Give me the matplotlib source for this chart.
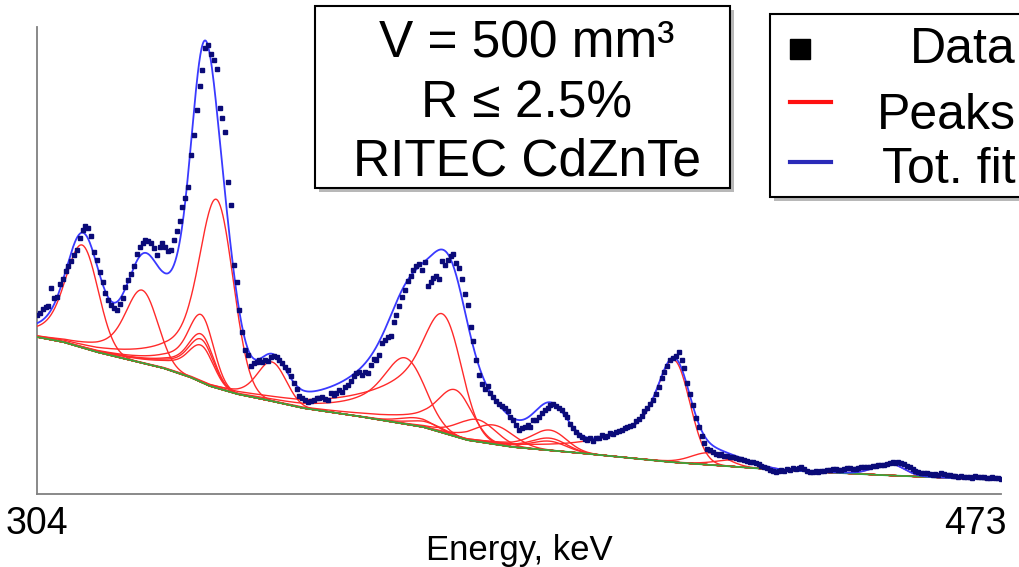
import numpy as np
import matplotlib
matplotlib.use("Agg")
import matplotlib.pyplot as plt
from matplotlib.patches import Rectangle
from matplotlib.lines import Line2D
import matplotlib.transforms as mtransforms
from math import erfc

# measured spectrum, 0.5 keV channels starting at 304 keV
e_start = 304.0
e_step = 0.5
counts = [
    179, 181, 185, 187, 188, 206, 196, 197, 210, 215,   # 304
    223, 228, 233, 239, 244, 256, 264, 268, 266, 258,   # 309
    242, 234, 222, 212, 201, 194, 189, 186, 184, 190,   # 314
    196, 207, 214, 220, 228, 240, 247, 251, 254, 253,   # 319
    251, 246, 239, 247, 251, 247, 243, 244, 254, 263,   # 324
    273, 287, 296, 307, 339, 359, 384, 408, 424, 446,   # 329
    449, 440, 434, 425, 386, 376, 362, 312, 289, 229,   # 334
    212, 184, 162, 144, 139, 128, 131, 132, 134, 132,   # 339
    134, 133, 137, 138, 137, 134, 131, 127, 124, 118,   # 344
    111, 105, 98, 96, 94, 92, 93, 94, 96, 96,           # 349
    97, 95, 94, 101, 99, 101, 104, 102, 107, 109,       # 354
    113, 118, 121, 122, 119, 122, 121, 129, 135, 134,   # 359
    139, 151, 154, 157, 158, 172, 179, 188, 197, 204,   # 364
    213, 218, 224, 228, 230, 224, 232, 208, 212, 216,   # 369
    218, 215, 233, 229, 234, 238, 240, 231, 226, 215,   # 374
    200, 189, 167, 153, 134, 119, 110, 105, 108, 101,   # 379
    97, 93, 90, 88, 86, 83, 77, 74, 69, 64,             # 384
    66, 67, 69, 67, 74, 74, 77, 81, 84, 86,             # 389
    89, 90, 88, 86, 84, 80, 77, 70, 66, 62,             # 394
    59, 57, 55, 54, 56, 53, 56, 56, 59, 57,             # 399
    58, 61, 60, 62, 63, 64, 66, 67, 68, 69,             # 404
    73, 75, 78, 83, 86, 90, 94, 100, 107, 116,          # 409
    122, 128, 134, 136, 138, 142, 134, 126, 111, 100,   # 414
    89, 76, 67, 58, 51, 45, 44, 42, 40, 39,             # 419
    40, 38, 38, 37, 37, 36, 35, 35, 34, 33,             # 424
    32, 32, 31, 30, 28, 27, 26, 24, 23, 22,             # 429
    23, 24, 23, 25, 24, 26, 25, 26, 27, 25,             # 434
    23, 22, 22, 23, 22, 23, 23, 24, 24, 25,             # 439
    25, 24, 24, 25, 26, 26, 25, 25, 26, 27,             # 444
    27, 27, 27, 28, 28, 29, 29, 29, 30, 31,             # 449
    32, 31, 32, 31, 30, 28, 27, 25, 23, 22,             # 454
    21, 21, 21, 20, 19, 20, 19, 21, 20, 19,             # 459
    19, 18, 18, 17, 18, 17, 17, 17, 16, 18,             # 464
    17, 17, 17, 16, 16, 17, 16, 16, 15,                 # 469
]

# fitted continuum (knots)
bg_energy = [304.0, 308.6, 314.5, 320.3, 326.1, 330.8, 334.3, 339.1, 344.3, 350.6,
             360.1, 371.7, 379.4, 387.4, 399.2, 415.0, 434.3, 451.8, 473.0]
bg_level = [157, 152, 142, 134, 126, 117, 108, 100, 94, 86,
            78, 67, 54, 47, 41, 32, 24, 19, 14]

# fitted peaks: centre (keV), height, sigma (keV), tail fraction, tail slope (keV)
peak_center = [312.2, 322.8, 333.2, 333.2, 333.2, 333.2, 335.8, 345.4, 369.4, 371.0,
               372.5, 376.0, 377.8, 381.3, 384.3, 394.3, 394.3, 394.3, 416.2, 422.0,
               427.0, 453.5]
peak_height = [102, 72, 66, 47, 42, 36, 187, 39, 64, 8,
               6, 114, 46, 22, 19, 20, 12, 9, 100, 12,
               7, 12]
peak_sigma = [2.7, 2.6, 2.0, 2.0, 2.0, 2.0, 2.8, 2.4, 3.2, 3.0,
              3.0, 3.0, 2.8, 3.2, 3.4, 2.8, 2.8, 2.8, 2.6, 3.0,
              3.5, 2.5]
peak_tail = [0.6, 0.8, 1.0, 1.0, 1.0, 1.0, 0.6, 0.5, 1.5, 0.3,
             0.3, 1.4, 0.8, 0.4, 0.4, 0.8, 0.8, 0.8, 1.0, 0.3,
             0.3, 0.3]
peak_tau = [4.5, 5, 5.5, 5.5, 5.5, 5.5, 7, 4, 7, 4,
            4, 10, 8, 5, 5, 6, 6, 6, 9, 4,
            4, 4]

verfc = np.vectorize(erfc)


def peak_shape(e, c, h, s, f, tau):
    # gaussian with low-energy exponential tail
    d = e - c
    g = np.exp(-0.5 * (d / s) ** 2)
    t = 0.5 * np.exp(d / tau + s ** 2 / (2 * tau ** 2)) * verfc(d / (np.sqrt(2) * s) + s / (np.sqrt(2) * tau))
    t0 = 0.5 * np.exp(s ** 2 / (2 * tau ** 2)) * erfc(s / (np.sqrt(2) * tau))
    return h * (g + f * t) / (1 + f * t0)


def main():
    energy = e_start + e_step * np.arange(len(counts))
    e_fine = np.linspace(304, 473, 1500)
    bg = np.interp(e_fine, bg_energy, bg_level)

    plt.rcParams['font.family'] = ['Liberation Sans', 'DejaVu Sans']
    fig = plt.figure(figsize=(10.19, 5.67), dpi=100)
    ax = fig.add_axes([37 / 1019, 73 / 567, 964 / 1019, 467 / 567])

    total = bg.copy()
    for c, h, s, f, tau in zip(peak_center, peak_height, peak_sigma, peak_tail, peak_tau):
        p = peak_shape(e_fine, c, h, s, f, tau)
        total += p
        ax.plot(e_fine, bg + p, color='#ff2a2a', lw=1.0, zorder=3)
    ax.plot(bg_energy, bg_level, color='#3aa63a', lw=1.3, zorder=3.5)
    ax.plot(e_fine, total, color='#3a3aff', lw=1.3, zorder=4)
    ax.plot(energy, counts, ls='none', marker='s', ms=3.4, color='#0a0a78', zorder=5)

    ax.set_xlim(304, 473)
    ax.set_ylim(0, 467)
    ax.set_yticks([])
    for side in ['top', 'right']:
        ax.spines[side].set_visible(False)
    for side in ['left', 'bottom']:
        ax.spines[side].set_color('#808080')
        ax.spines[side].set_linewidth(1.3)

    narrow = ['Liberation Sans Narrow', 'Liberation Sans', 'DejaVu Sans']
    ax.set_xticks([304, 473])
    ax.set_xticklabels(['304', '473'], family=narrow, fontsize=27)
    ax.tick_params(axis='x', length=0, pad=9)
    labels = ax.get_xticklabels()
    labels[1].set_ha('right')
    labels[1].set_transform(labels[1].get_transform() + mtransforms.ScaledTranslation(6 / 100, 0, fig.dpi_scale_trans))
    ax.set_xlabel('Energy, keV', family=narrow, fontsize=25)
    ax.xaxis.set_label_coords(0.5, -0.085)

    # info box
    fig.add_artist(Rectangle((319 / 1019, (567 - 192) / 567), 415 / 1019, 182 / 567,
                             transform=fig.transFigure, facecolor='#9a9a9a', edgecolor='none', alpha=0.7))
    fig.add_artist(Rectangle((315 / 1019, (567 - 188) / 567), 415 / 1019, 182 / 567,
                             transform=fig.transFigure, facecolor='white', edgecolor='black', lw=1.5))
    for text, base in [('V = 500 mm³', 57), ('R ≤ 2.5%', 117), ('RITEC CdZnTe', 175)]:
        fig.text(527 / 1019, (567 - base) / 567, text, ha='center', va='baseline', fontsize=37)

    # legend box
    fig.add_artist(Rectangle((774 / 1019, (567 - 201) / 567), 260 / 1019, 183 / 567,
                             transform=fig.transFigure, facecolor='#9a9a9a', edgecolor='none', alpha=0.7))
    fig.add_artist(Rectangle((770 / 1019, (567 - 197) / 567), 260 / 1019, 183 / 567,
                             transform=fig.transFigure, facecolor='white', edgecolor='black', lw=1.5))
    fig.add_artist(Line2D([800 / 1019], [(567 - 49) / 567], transform=fig.transFigure,
                          marker='s', ms=15, color='black', ls='none'))
    fig.add_artist(Line2D([790 / 1019, 831 / 1019], [(567 - 102) / 567] * 2, transform=fig.transFigure,
                          color='#ff1010', lw=3))
    fig.add_artist(Line2D([790 / 1019, 831 / 1019], [(567 - 162) / 567] * 2, transform=fig.transFigure,
                          color='#2a2ab8', lw=3))
    for text, base in [('Data', 63), ('Peaks', 129), ('Tot. fit', 183)]:
        fig.text(1016 / 1019, (567 - base) / 567, text, ha='right', va='baseline', fontsize=36)

    fig.savefig('out.png', dpi=100)


if __name__ == "__main__":
    main()
